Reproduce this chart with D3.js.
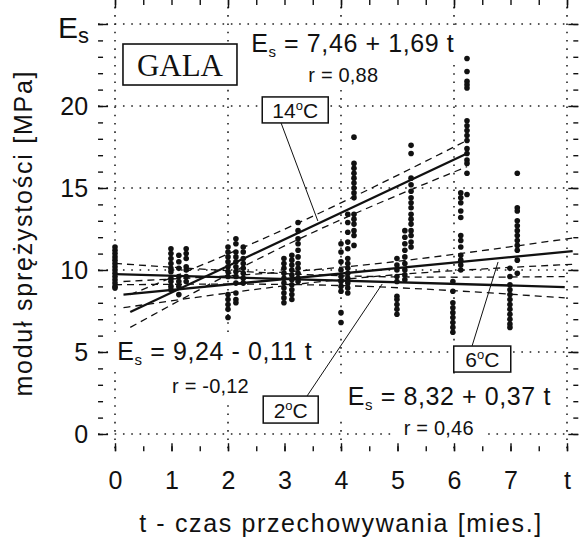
<!DOCTYPE html>
<meta charset="utf-8">
<script src="https://d3js.org/d3.v7.min.js"></script>
<style>
  body { margin: 0; background: #fff; }
  text { font-family: "Liberation Sans", Arial, sans-serif; fill: #111; white-space: pre; }
</style>
<div id="chart"></div>
<script>

// ---- data ----
var monthTicks = [0, 1, 2, 3, 4, 5, 6, 7, 8];
var monthLabels = ["0", "1", "2", "3", "4", "5", "6", "7", "t"];
var esTicks = [0, 5, 10, 15, 20];
var gridT = [0, 2, 4, 6, 8];
var gridE = [0, 5, 10, 15, 20, 25];

// 2 oC storage: column position on t axis and measured moduli
var t2 = [0, 0.99, 2.0, 2.99, 4.0, 4.99, 5.98, 6.99];
var es2 = [
  [11.4, 11.2, 11.0, 10.8, 10.6, 10.4, 10.2, 10.0, 9.8, 9.6, 9.4, 9.2, 9.0, 8.9],
  [11.3, 11.0, 10.7, 10.4, 10.1, 9.9, 9.5, 9.3, 9.0, 8.8],
  [11.4, 11.1, 10.8, 10.5, 10.2, 9.9, 9.6, 8.5, 8.2, 7.9, 7.6, 7.1],
  [10.7, 10.4, 10.1, 9.8, 9.5, 9.2, 8.9, 8.6, 8.3, 8.0],
  [11.6, 11.1, 10.5, 10.0, 9.6, 9.3, 9.0, 8.7, 7.4, 6.8],
  [10.7, 10.3, 10.0, 9.6, 9.3, 8.4, 8.2, 7.9, 7.6, 7.3],
  [9.3, 8.7, 8.0, 7.7, 7.4, 7.1, 6.8, 6.5, 6.2],
  [10.1, 9.6, 9.1, 8.8, 8.5, 8.2, 7.9, 7.6, 7.3, 7.0, 6.7, 6.5]
];

// 6 oC storage
var t6 = [1.13, 2.14, 3.13, 4.12, 5.13, 6.12, 7.12];
var es6 = [
  [10.9, 10.5, 10.1, 9.6, 9.3, 9.0, 8.5],
  [11.9, 11.6, 11.1, 10.8, 10.5, 10.2, 9.9, 9.6, 9.2, 8.6, 8.2, 8.0],
  [10.9, 10.6, 10.3, 10.0, 9.7, 9.4, 9.1, 8.8, 8.5, 8.2],
  [13.4, 12.9, 12.3, 11.7, 11.3, 10.7, 10.4, 10.1, 9.8, 9.5, 9.2, 8.9, 8.6],
  [12.4, 12.0, 11.6, 11.2, 10.8, 10.4, 10.0, 9.7, 9.4],
  [14.7, 14.4, 14.1, 13.6, 13.2, 12.1, 11.8, 11.4, 10.9, 10.6, 10.3, 10.0],
  [15.9, 13.8, 13.6, 13.0, 12.7, 12.4, 12.1, 11.8, 11.5, 11.2, 10.6, 9.8]
];

// 14 oC storage
var t14 = [1.26, 2.27, 3.24, 4.23, 5.24, 6.23];
var es14 = [
  [11.3, 11.0, 10.7, 10.2, 10.0, 9.6, 9.3],
  [11.4, 11.1, 10.7, 10.4, 10.1, 9.8, 9.5, 9.2],
  [12.9, 12.4, 11.9, 11.6, 11.2, 10.8, 10.4, 10.1, 9.8, 9.5, 9.3],
  [18.1, 16.5, 16.2, 15.9, 15.6, 15.3, 15.0, 14.7, 14.4, 13.4, 13.1, 12.8, 12.4, 12.1, 11.5],
  [17.6, 17.1, 15.6, 15.2, 14.8, 14.4, 14.1, 13.8, 13.4, 13.1, 12.8, 12.4, 12.1, 11.7, 11.4],
  [22.9, 22.1, 21.5, 21.3, 21.1, 19.1, 18.8, 18.5, 18.2, 17.9, 17.4, 17.1, 16.7, 16.5, 15.9, 14.6]
];

// fitted lines (as drawn) and their confidence bands
var fitT2 = [0, 7.96], fitE2 = [9.75, 8.96];
var bandT2 = [0, 4, 7.96], upper2 = [10.4, 9.65, 9.6], lower2 = [9.1, 9.05, 8.3];
var fitT6 = [0.15, 8.1], fitE6 = [8.5, 11.15];
var bandT6 = [0.15, 4.1, 8.1], upper6 = [9.3, 10.2, 11.95], lower6 = [7.7, 9.45, 10.35];
var fitT14 = [0.27, 6.23], fitE14 = [7.44, 17.1];
var bandT14 = [0.27, 3.2, 6.23], upper14 = [8.5, 12.8, 17.9], lower14 = [6.5, 11.8, 16.3];

// annotations
var eqText = ["= 7,46 + 1,69 t", "= 9,24 - 0,11 t", "= 8,32 + 0,37 t"];
var eqPos = [[2.41, 23.29], [0.04, 4.51], [4.12, 1.77]];
var rText = ["r = 0,88", "r = -0,12", "r = 0,46"];
var rPos = [[4.04, 21.46], [1.69, 2.5], [5.73, -0.06]];
var tempText = ["14", "2", "6"];
var tempPos = [[3.19, 19.76], [3.11, 1.49], [6.5, 4.57]];
var tempBox = [[66, 26], [55, 27], [57, 26]];
var leaderFrom = [[2.94, 18.96], [3.4, 2.32], [6.32, 5.37]];
var leaderTo = [[3.59, 12.99], [4.73, 9.15], [6.78, 10.49]];

// ---- drawing ----
var width = 580, height = 538;
var tMin = -0.3, tMax = 8.2, eMin = -1.05, eMax = 26.05;

var svg = d3.select("#chart").append("svg")
    .attr("width", width)
    .attr("height", height);

var x = d3.scaleLinear().domain([0, 8]).range([115, 567]);
var y = d3.scaleLinear().domain([0, 25]).range([434, 24]);

// dotted grid
var grid = svg.append("g")
    .attr("stroke", "#222")
    .attr("stroke-width", 1.6)
    .attr("stroke-dasharray", "1.6 6.7");
grid.selectAll(".gv").data(gridT).join("line").attr("class", "gv")
    .attr("x1", d => x(d)).attr("x2", d => x(d))
    .attr("y1", y(eMax)).attr("y2", y(eMin));
grid.selectAll(".gh").data(gridE).join("line").attr("class", "gh")
    .attr("x1", x(tMin)).attr("x2", x(tMax))
    .attr("y1", d => y(d)).attr("y2", d => y(d));

var bg = svg.append("g");
var plot = svg.append("g");
var notes = svg.append("g");

// confidence bands (dashed) and fitted lines
var bandLine = d3.line().x(d => x(d[0])).y(d => y(d[1])).curve(d3.curveNatural);
function band(ts, es) {
  plot.append("path")
      .attr("d", bandLine(ts.map((t, i) => [t, es[i]])))
      .attr("fill", "none").attr("stroke", "#111")
      .attr("stroke-width", 1.3).attr("stroke-dasharray", "7 5");
}
function fit(ts, es) {
  plot.append("line")
      .attr("x1", x(ts[0])).attr("y1", y(es[0]))
      .attr("x2", x(ts[1])).attr("y2", y(es[1]))
      .attr("stroke", "#111").attr("stroke-width", 2.3);
}
band(bandT2, upper2); band(bandT2, lower2);
band(bandT6, upper6); band(bandT6, lower6);
band(bandT14, upper14); band(bandT14, lower14);
fit(fitT2, fitE2); fit(fitT6, fitE6); fit(fitT14, fitE14);

// measurement points
function dots(ts, es) {
  var pts = [];
  ts.forEach((t, i) => es[i].forEach(v => pts.push([t, v])));
  plot.append("g").selectAll("circle")
      .data(pts)
      .join("circle")
      .attr("cx", d => x(d[0]))
      .attr("cy", d => y(d[1]))
      .attr("r", 2.8)
      .attr("fill", "#111");
}
dots(t2, es2); dots(t6, es6); dots(t14, es14);

// white patch behind a text, cuts the grid like in the print
function patch(node, px, py) {
  var b = node.getBBox();
  bg.append("rect")
      .attr("x", b.x - px).attr("y", b.y - py)
      .attr("width", b.width + 2 * px).attr("height", b.height + 2 * py)
      .attr("fill", "#fff");
}

// equations
eqText.forEach(function(s, i) {
  var t = notes.append("text")
      .attr("x", x(eqPos[i][0])).attr("y", y(eqPos[i][1]))
      .attr("font-size", 25).attr("letter-spacing", 0.6);
  t.append("tspan").text("E");
  t.append("tspan").attr("font-size", 15).attr("dy", 5).text("s");
  t.append("tspan").attr("dy", -5).text(" " + s);
  patch(t.node(), 9, 4);
});
rText.forEach(function(s, i) {
  var t = notes.append("text")
      .attr("x", x(rPos[i][0])).attr("y", y(rPos[i][1]))
      .attr("text-anchor", "middle")
      .attr("font-size", 20).attr("letter-spacing", 0.2)
      .text(s);
  patch(t.node(), 9, 4);
});

// leader lines and temperature boxes
leaderFrom.forEach(function(p, i) {
  notes.append("line")
      .attr("x1", x(p[0])).attr("y1", y(p[1]))
      .attr("x2", x(leaderTo[i][0])).attr("y2", y(leaderTo[i][1]))
      .attr("stroke", "#111").attr("stroke-width", 1);
});
tempText.forEach(function(s, i) {
  var cx = x(tempPos[i][0]), cy = y(tempPos[i][1]);
  var w = tempBox[i][0], h = tempBox[i][1];
  notes.append("rect")
      .attr("x", cx - w / 2).attr("y", cy - h / 2)
      .attr("width", w).attr("height", h)
      .attr("fill", "#fff").attr("stroke", "#111").attr("stroke-width", 1.5);
  var t = notes.append("text")
      .attr("x", cx).attr("y", cy + 8)
      .attr("text-anchor", "middle")
      .attr("font-size", 21);
  t.append("tspan").text(s);
  t.append("tspan").attr("font-size", 13).attr("dy", -8).text("o");
  t.append("tspan").attr("dy", 8).text("C");
});

// GALA box
var gala = [1.15, 22.53];
notes.append("rect")
    .attr("x", x(gala[0]) - 57).attr("y", y(gala[1]) - 20.5)
    .attr("width", 114).attr("height", 41)
    .attr("fill", "#fff").attr("stroke", "#111").attr("stroke-width", 1.6);
notes.append("text")
    .attr("x", x(gala[0])).attr("y", y(gala[1]) + 11)
    .attr("text-anchor", "middle")
    .style("font-family", "'Liberation Serif', 'Times New Roman', serif")
    .attr("font-size", 31)
    .text("GALA");

// axes: ticks point into the frame
var axes = svg.append("g");
var bottom = y(eMin), top = y(eMax), left = x(tMin), right = x(tMax);

axes.append("g").attr("transform", "translate(0," + bottom + ")")
    .call(d3.axisBottom(x).tickValues(d3.range(0, 8.01, 0.5)).tickSize(-5).tickFormat(""));
axes.append("g").attr("transform", "translate(0," + bottom + ")")
    .call(d3.axisBottom(x).tickValues(monthTicks).tickSize(-8).tickPadding(20)
      .tickFormat((d, i) => monthLabels[i]));
axes.append("g").attr("transform", "translate(0," + top + ")")
    .call(d3.axisTop(x).tickValues(d3.range(0, 8.01, 0.5)).tickSize(-5).tickFormat(""));
axes.append("g").attr("transform", "translate(0," + top + ")")
    .call(d3.axisTop(x).tickValues(gridT).tickSize(-8).tickFormat(""));

axes.append("g").attr("transform", "translate(" + left + ",0)")
    .call(d3.axisLeft(y).ticks(26).tickSize(-5).tickFormat(""));
axes.append("g").attr("transform", "translate(" + left + ",0)")
    .call(d3.axisLeft(y).tickValues(esTicks).tickSize(-10).tickPadding(10));
axes.append("g").attr("transform", "translate(" + left + ",0)")
    .call(d3.axisLeft(y).tickValues([25]).tickSize(-10).tickFormat(""));
axes.append("g").attr("transform", "translate(" + right + ",0)")
    .call(d3.axisRight(y).ticks(26).tickSize(-5).tickFormat(""));
axes.append("g").attr("transform", "translate(" + right + ",0)")
    .call(d3.axisRight(y).tickValues(gridE).tickSize(-10).tickFormat(""));

axes.selectAll(".domain").remove();
axes.selectAll(".tick line").attr("stroke", "#111").attr("stroke-width", 1.4);
axes.selectAll(".tick text")
    .attr("fill", "#111")
    .style("font-family", "'Liberation Sans', Arial, sans-serif")
    .style("font-size", "25px");

// frame
svg.append("rect")
    .attr("x", left).attr("y", top)
    .attr("width", right - left).attr("height", bottom - top)
    .attr("fill", "none").attr("stroke", "#111").attr("stroke-width", 2);

// E_s at the top of the y axis
var esLab = svg.append("text")
    .attr("x", left - 9).attr("y", y(25) + 14)
    .attr("text-anchor", "end")
    .attr("font-size", 30);
esLab.append("tspan").text("E");
esLab.append("tspan").attr("font-size", 22).attr("dy", 5).text("s");

// axis titles
svg.append("text")
    .attr("x", (left + right) / 2 + 2).attr("y", 532)
    .attr("text-anchor", "middle")
    .attr("font-size", 25)
    .attr("textLength", 402).attr("lengthAdjust", "spacing")
    .text("t - czas przechowywania [mies.]");
svg.append("text")
    .attr("transform", "translate(32," + 234 + ") rotate(-90)")
    .attr("text-anchor", "middle")
    .attr("font-size", 25)
    .attr("textLength", 325).attr("lengthAdjust", "spacing")
    .text("moduł sprężystości [MPa]");

</script>
